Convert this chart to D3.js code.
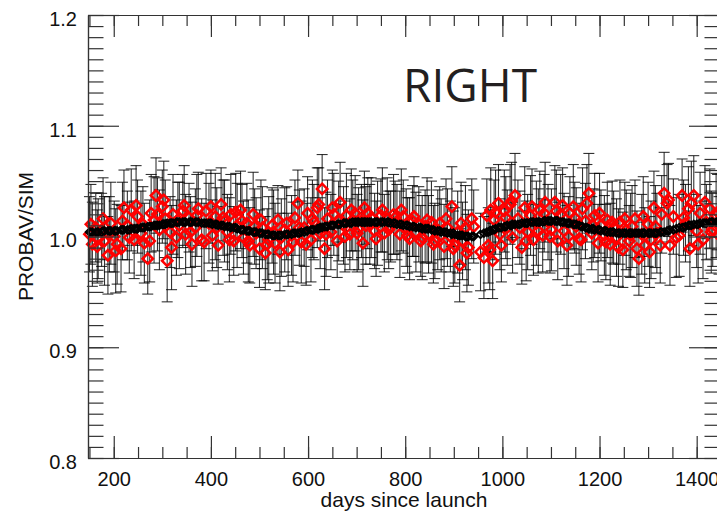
<!DOCTYPE html>
<html>
<head>
<meta charset="utf-8">
<script src="https://cdn.jsdelivr.net/npm/d3@7"></script>
<style>
  body { margin: 0; background: #fff; }
  svg { display: block; }
  .axis text { font-family: "Liberation Sans", Arial, sans-serif; font-size: 20px; fill: #111; }
  .axis path, .axis line { stroke: #333; stroke-width: 1.2; }
</style>
</head>
<body>
<div id="chart"></div>
<script>
// days since launch for each acquisition (second block = interleaved acquisitions)
var days = [
  150,156,163,168,175,181,188,194,201,207,215,221,228,236,242,249,256,263,270,277,283,287,294,300,
  306,310,316,322,329,335,342,348,355,361,368,374,381,390,396,403,409,415,421,428,434,441,447,454,461,467,
  474,480,487,493,500,506,512,519,526,532,538,545,552,559,566,573,579,586,592,599,606,612,619,625,629,634,640,
  647,653,660,666,673,679,686,692,697,704,710,713,719,723,730,737,743,750,757,763,770,776,783,789,796,802,809,815,822,828,835,841,848,854,861,867,874,880,887,893,896,902,908,912,918,924,930,937,
  955,962,968,974,980,986,
  992,998,1004,1010,1016,1021,1026,1032,1040,1046,1052,1058,1064,1070,1077,1083,1088,1094,1101,1108,1114,1120,
  1127,1133,1139,1146,1152,1158,1165,1171,1178,1184,1190,1197,1203,1210,1216,1222,1229,1235,1242,1248,1255,1261,1267,1273,1281,1287,1293,1300,1306,1312,1318,1325,1333,1339,
  1345,1352,1364,1370,1377,1383,1386,1394,1400,1407,1413,1420,1427,1433,1440,1446,
  153,166,178,191,204,218,232,246,260,274,290,303,319,332,345,358,371,386,400,412,
  425,438,451,464,477,490,503,516,529,542,556,569,582,596,609,622,637,650,663,676,
  689,701,716,727,740,753,766,779,792,805,818,832,845,858,871,884,899,915,927,941,
  976,971,983,995,1007,1019,1036,1049,1061,1074,1086,1098,1111,1124,1136,1149,1162,1174,1187,1200,
  1213,1226,1239,1252,1264,1277,1290,1303,1315,1328,1342,1358,1373,1389,1403,1417,1430,1443
];
// PROBAV/SIM ratio (red diamonds)
var ratio = [
  1.002,0.993,1.008,0.998,1.006,0.996,0.983,1.012,1.000,0.993,0.989,1.026,1.010,1.024,0.997,1.018,1.003,0.994,0.980,1.021,1.015,1.037,1.006,1.027,
  1.016,0.978,1.004,1.020,0.999,1.010,1.023,1.002,1.017,0.993,1.008,1.025,0.997,1.023,1.012,1.001,1.018,0.992,1.029,1.014,1.004,1.020,0.996,1.010,1.024,0.999,
  1.012,0.992,1.020,1.003,0.989,1.008,0.985,0.997,1.010,0.994,1.015,0.999,1.006,0.988,1.001,1.017,1.030,0.995,1.008,1.021,0.997,1.013,1.026,1.003,1.043,0.989,1.016,
  1.004,1.020,0.996,1.031,1.010,1.019,1.002,1.015,1.021,1.007,1.014,0.994,1.010,1.021,1.017,1.005,1.012,1.019,1.003,1.016,1.009,1.020,1.013,1.002,1.018,1.008,0.998,1.014,1.004,1.011,0.999,1.009,1.002,1.013,0.996,1.006,1.001,0.991,1.008,1.000,1.027,0.992,1.004,0.974,0.996,1.008,0.990,1.016,
  0.986,0.981,1.019,0.988,0.978,1.022,
  1.030,0.992,1.023,1.008,1.029,0.999,1.037,1.016,0.990,1.026,1.004,1.019,0.997,1.012,1.024,1.001,1.031,1.013,1.006,1.031,0.996,1.020,
  1.005,0.992,1.021,1.027,1.009,0.998,1.025,1.014,1.039,1.003,1.019,0.994,1.010,1.001,1.015,0.993,1.008,0.999,1.013,0.988,1.006,0.996,1.009,1.016,0.980,1.002,0.992,1.011,0.997,1.026,1.003,0.992,1.039,1.030,
  0.992,1.018,1.001,1.037,1.012,1.025,0.989,1.037,1.005,1.021,0.997,1.013,1.025,1.006,1.019,1.001,
  1.011,0.991,1.016,1.002,0.987,1.014,0.999,1.028,1.011,0.996,1.020,1.033,0.990,1.015,1.028,1.004,1.019,0.995,1.027,1.008,
  1.017,0.997,1.022,1.014,0.996,1.009,1.015,0.993,1.004,0.986,1.012,0.995,1.008,0.993,1.016,1.029,1.002,1.026,1.014,1.000,
  1.024,1.003,1.026,1.011,0.998,1.024,1.006,1.017,1.024,1.001,1.018,0.996,1.015,0.993,1.012,1.016,0.989,1.012,0.985,1.009,
  1.024,0.992,1.015,1.002,1.017,1.032,1.008,0.996,1.027,1.005,1.021,1.000,1.023,1.028,1.000,1.017,0.997,1.030,1.010,1.021,
  0.995,1.013,0.990,1.016,1.001,0.989,1.018,0.986,1.009,1.020,1.033,0.999,1.017,1.030,0.993,1.031,1.004,1.022
];
// smoothed ratio (black diamonds)
var smooth = [
  1.004,1.004,1.004,1.004,1.004,1.005,1.005,1.005,1.005,1.005,1.006,1.006,1.006,1.007,1.007,1.007,1.008,1.008,1.009,1.009,1.010,1.010,1.010,1.011,
  1.011,1.012,1.012,1.012,1.013,1.013,1.013,1.013,1.013,1.013,1.013,1.013,1.012,1.012,1.012,1.011,1.011,1.010,1.010,1.009,1.009,1.008,1.008,1.007,1.006,1.006,
  1.005,1.005,1.004,1.004,1.003,1.003,1.002,1.002,1.001,1.001,1.001,1.001,1.002,1.002,1.002,1.003,1.003,1.004,1.004,1.005,1.006,1.006,1.007,1.008,1.008,1.009,1.009,
  1.010,1.010,1.011,1.011,1.012,1.012,1.012,1.013,1.013,1.013,1.013,1.013,1.013,1.013,1.013,1.013,1.013,1.013,1.013,1.013,1.012,1.012,1.011,1.011,1.010,1.010,1.009,1.009,1.008,1.008,1.007,1.007,1.007,1.006,1.005,1.005,1.004,1.004,1.003,1.003,1.002,1.002,1.001,1.001,1.001,1.000,1.000,1.000,
  1.002,1.003,1.004,1.005,1.006,1.007,
  1.008,1.008,1.009,1.010,1.010,1.011,1.011,1.011,1.012,1.012,1.012,1.013,1.013,1.013,1.013,1.013,1.014,1.014,1.014,1.014,1.014,1.013,
  1.013,1.012,1.012,1.011,1.011,1.010,1.009,1.008,1.007,1.007,1.006,1.006,1.005,1.005,1.004,1.004,1.004,1.003,1.003,1.003,1.003,1.003,1.003,1.003,1.003,1.003,1.003,1.003,1.003,1.003,1.003,1.004,1.004,1.005,
  1.006,1.006,1.008,1.008,1.009,1.010,1.010,1.011,1.011,1.012,1.012,1.012,1.013,1.013,1.013,1.013,
  1.004,1.004,1.005,1.005,1.005,1.006,1.006,1.007,1.008,1.009,1.010,1.011,1.012,1.013,1.013,1.013,1.013,1.012,1.012,1.011,
  1.010,1.009,1.008,1.006,1.005,1.004,1.003,1.002,1.001,1.001,1.002,1.003,1.003,1.005,1.006,1.007,1.009,1.010,1.011,1.012,
  1.012,1.013,1.013,1.013,1.013,1.013,1.013,1.012,1.011,1.010,1.009,1.008,1.007,1.006,1.005,1.004,1.003,1.001,1.000,1.000,
  1.005,1.004,1.006,1.008,1.009,1.010,1.011,1.012,1.013,1.013,1.014,1.014,1.014,1.013,1.012,1.011,1.009,1.008,1.007,1.006,
  1.005,1.004,1.003,1.003,1.003,1.003,1.003,1.003,1.003,1.004,1.005,1.007,1.008,1.010,1.011,1.012,1.013,1.013
];
// half length of the error bars
var err = [
  0.034,0.038,0.031,0.036,0.033,0.040,0.035,0.037,0.032,0.036,0.039,0.034,0.031,0.037,0.035,0.033,0.038,0.036,0.032,0.035,0.039,0.034,0.036,0.033,
  0.035,0.037,0.032,0.036,0.034,0.039,0.033,0.036,0.031,0.038,0.035,0.033,0.037,0.034,0.036,0.032,0.039,0.035,0.033,0.037,0.034,0.036,0.031,0.038,0.035,0.033,
  0.036,0.034,0.038,0.032,0.035,0.037,0.033,0.039,0.034,0.036,0.031,0.035,0.038,0.033,0.036,0.034,0.030,0.037,0.035,0.033,0.038,0.034,0.036,0.032,0.031,0.037,0.035,
  0.034,0.037,0.033,0.036,0.035,0.038,0.032,0.036,0.034,0.037,0.033,0.039,0.035,0.032,0.036,0.034,0.038,0.033,0.035,0.037,0.032,0.036,0.034,0.039,0.033,0.035,0.037,0.032,0.036,0.034,0.038,0.033,0.035,0.037,0.034,0.036,0.033,0.038,0.035,0.032,0.036,0.034,0.037,0.033,0.035,0.038,0.034,0.036,
  0.035,0.037,0.033,0.036,0.034,0.038,
  0.035,0.033,0.037,0.034,0.036,0.032,0.038,0.035,0.033,0.037,0.034,0.036,0.032,0.038,0.035,0.033,0.036,0.034,0.037,0.033,0.035,0.036,
  0.034,0.036,0.033,0.038,0.035,0.032,0.037,0.034,0.036,0.033,0.038,0.035,0.032,0.036,0.034,0.037,0.033,0.035,0.038,0.034,0.036,0.032,0.037,0.035,0.033,0.036,0.034,0.038,0.035,0.033,0.036,0.034,0.037,0.035,
  0.036,0.034,0.037,0.033,0.035,0.038,0.034,0.036,0.033,0.037,0.035,0.034,0.036,0.033,0.038,0.035,
  0.036,0.033,0.037,0.034,0.038,0.035,0.032,0.036,0.034,0.037,0.033,0.035,0.038,0.034,0.036,0.032,0.037,0.035,0.033,0.036,
  0.034,0.038,0.035,0.033,0.037,0.034,0.036,0.032,0.038,0.035,0.033,0.036,0.034,0.037,0.035,0.033,0.038,0.034,0.036,0.032,
  0.037,0.035,0.033,0.036,0.034,0.038,0.035,0.033,0.037,0.034,0.036,0.032,0.038,0.035,0.033,0.036,0.034,0.037,0.035,0.033,
  0.038,0.034,0.036,0.032,0.037,0.035,0.033,0.036,0.034,0.038,0.035,0.033,0.037,0.034,0.036,0.032,0.038,0.035,0.033,0.036,
  0.034,0.037,0.035,0.033,0.038,0.034,0.036,0.032,0.037,0.035,0.033,0.036,0.034,0.038,0.035,0.033,0.037,0.034
];
var xMajor = [200, 400, 600, 800, 1000, 1200, 1400];
var yMajor = [0.8, 0.9, 1.0, 1.1, 1.2];

var width = 717, height = 513;
var padL = 88, padR = 720, padT = 15, padB = 458;

var n = d3.min([days.length, ratio.length, smooth.length, err.length]);
var data = d3.range(n).map(function(i){
  return {d: days[i], r: ratio[i], s: smooth[i], e: err[i]};
});

var x = d3.scaleLinear().domain([147, 1448]).range([padL, padR]);
var y = d3.scaleLinear().domain([0.8, 1.2]).range([padB, padT]);

var svg = d3.select('#chart').append('svg').attr('width', width).attr('height', height);

var plot = svg.append('g');

// error bars
var bars = plot.selectAll('.bar').data(data).enter().append('g').attr('class', 'bar')
  .attr('stroke', '#000').attr('stroke-opacity', 0.8).attr('stroke-width', 1.1);
bars.append('line')
  .attr('x1', function(p){ return x(p.d); }).attr('x2', function(p){ return x(p.d); })
  .attr('y1', function(p){ return y(p.r + p.e); }).attr('y2', function(p){ return y(p.r - p.e); });
bars.append('line')
  .attr('x1', function(p){ return x(p.d) - 5.5; }).attr('x2', function(p){ return x(p.d) + 5.5; })
  .attr('y1', function(p){ return y(p.r + p.e); }).attr('y2', function(p){ return y(p.r + p.e); });
bars.append('line')
  .attr('x1', function(p){ return x(p.d) - 5.5; }).attr('x2', function(p){ return x(p.d) + 5.5; })
  .attr('y1', function(p){ return y(p.r - p.e); }).attr('y2', function(p){ return y(p.r - p.e); });

// red data diamonds
plot.selectAll('.red').data(data).enter().append('path')
  .attr('class', 'red')
  .attr('d', d3.symbol().type(d3.symbolSquare).size(54)())
  .attr('transform', function(p){ return 'translate(' + x(p.d) + ',' + y(p.r) + ') rotate(45)'; })
  .attr('fill', 'none').attr('stroke', '#ff0000').attr('stroke-width', 2.5);

// smoothed black diamonds
plot.selectAll('.blk').data(data).enter().append('path')
  .attr('class', 'blk')
  .attr('d', d3.symbol().type(d3.symbolSquare).size(30)())
  .attr('transform', function(p){ return 'translate(' + x(p.d) + ',' + y(p.s) + ') rotate(45)'; })
  .attr('fill', 'none').attr('stroke', '#000').attr('stroke-width', 1.8);

// axes, ticks pointing inward on all four sides
var xMinor = d3.range(150, 1450, 50);
var yMinor = d3.range(80, 121).map(function(v){ return v / 100; });

function addAxis(axis, tx, ty){
  return svg.append('g').attr('class', 'axis')
    .attr('transform', 'translate(' + tx + ',' + ty + ')').call(axis);
}

var xb = addAxis(d3.axisBottom(x).tickValues(xMajor).tickSize(-22).tickSizeOuter(0).tickFormat(d3.format('d')), 0, padB);
xb.selectAll('text').attr('y', 28).attr('dy', 0);
addAxis(d3.axisBottom(x).tickValues(xMinor).tickSize(-11).tickSizeOuter(0).tickFormat(''), 0, padB);
addAxis(d3.axisTop(x).tickValues(xMajor).tickSize(-22).tickSizeOuter(0).tickFormat(''), 0, padT);
addAxis(d3.axisTop(x).tickValues(xMinor).tickSize(-11).tickSizeOuter(0).tickFormat(''), 0, padT);

var yl = addAxis(d3.axisLeft(y).tickValues(yMajor).tickSize(-31).tickSizeOuter(0).tickFormat(d3.format('.1f')), padL, 0);
yl.selectAll('text').attr('x', -11).attr('dy', '0.52em');
addAxis(d3.axisLeft(y).tickValues(yMinor).tickSize(-15.5).tickSizeOuter(0).tickFormat(''), padL, 0);
addAxis(d3.axisRight(y).tickValues(yMajor).tickSize(-31).tickSizeOuter(0).tickFormat(''), padR, 0);
addAxis(d3.axisRight(y).tickValues(yMinor).tickSize(-15.5).tickSizeOuter(0).tickFormat(''), padR, 0);

// axis titles
svg.append('text')
  .attr('x', (padL + padR) / 2).attr('y', 507)
  .attr('text-anchor', 'middle')
  .style('font-family', '"Liberation Sans", Arial, sans-serif').style('font-size', '21px').attr('fill', '#111')
  .text('days since launch');
svg.append('text')
  .attr('transform', 'translate(33,' + y(1.0) + ') rotate(-90)')
  .attr('text-anchor', 'middle')
  .style('font-family', '"Liberation Sans", Arial, sans-serif').style('font-size', '21px').attr('fill', '#111')
  .text('PROBAV/SIM');

// panel label
svg.append('text')
  .attr('x', 470).attr('y', 102)
  .attr('text-anchor', 'middle')
  .style('font-family', '"Open Sans", sans-serif').style('font-size', '46px').attr('fill', '#231f20')
  .text('RIGHT');
</script>
</body>
</html>
